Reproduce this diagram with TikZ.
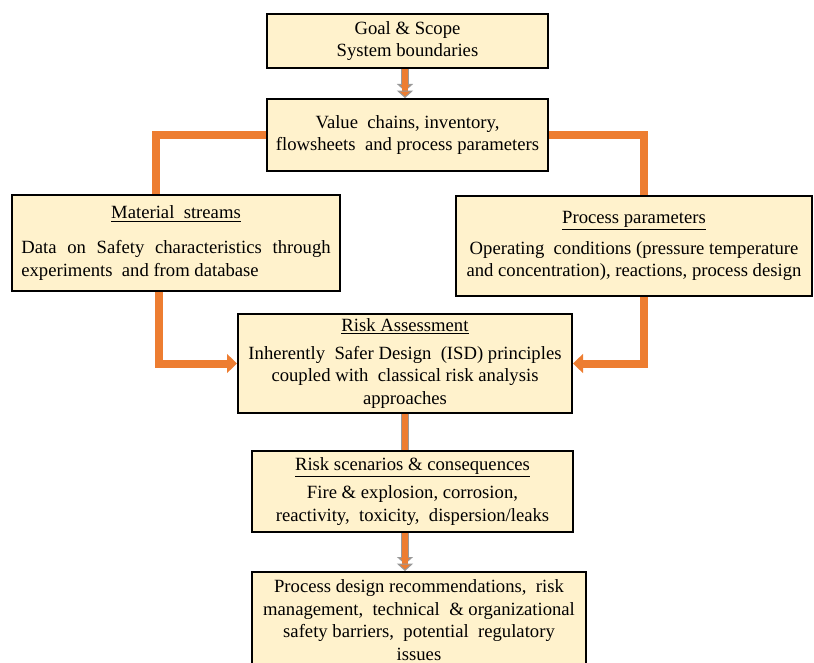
\documentclass[tikz,border=0pt]{standalone}
\usepackage{fontspec}
\setmainfont{Liberation Serif}
\usepackage{tikz}
\usetikzlibrary{arrows.meta}

\definecolor{boxfill}{HTML}{FFF2CC}
\definecolor{flow}{HTML}{ED7D31}

\tikzset{
	box/.style={draw=black, line width=1.5pt, fill=boxfill, align=center, inner sep=2pt,
		font=\fontsize{14}{17}\selectfont},
	link/.style={draw=flow, line width=6pt},
	linktip/.style={link, -{Triangle[width=14pt,length=7.5pt]}},
	shaft/.style={draw=flow, line width=4pt, preaction={draw=black!40, line width=6pt}},
	shafttip/.style={draw=flow, line width=4pt, -{Triangle[width=12pt,length=5.5pt,color=black!40,fill=flow,line width=0.8pt]},
		preaction={draw=black!40, line width=6pt, shorten >=5pt}}
}

\begin{document}
\begin{tikzpicture}[x=0.75pt,y=-0.75pt]
					
					\useasboundingbox (0,0) rectangle (814,663);
					
					% boxes
					\node[box, minimum width=211pt, minimum height=40.5pt] (goal) at (407.5,41) {Goal \& Scope\\System boundaries};
					\node[box, minimum width=211pt, minimum height=54pt] (value) at (407.5,135) {Value\ \ chains, inventory,\\flowsheets\ \ and process parameters};
					\node[box, minimum width=246pt, minimum height=72pt] (material) at (176,243) {\underline{Material\ \ streams}\\[9pt]\hbox to 232pt{Data\hfill on\hfill Safety\hfill characteristics\hfill through}\\\hbox to 232pt{experiments\ \ and from database\hfill}};
					\node[box, minimum width=267pt, minimum height=75pt] (process) at (634,246) {\underline{Process parameters}\\[6pt]Operating\ \ conditions (pressure temperature\\and concentration), reactions, process design};
					\node[box, minimum width=250.5pt, minimum height=74pt] (risk) at (405,363.5) {\underline{Risk Assessment}\\[4pt]Inherently\ \ Safer Design\ \ (ISD) principles\\coupled with\ \ classical risk analysis\\approaches};
					\node[box, minimum width=241pt, minimum height=61pt] (scenario) at (412.5,491.5) {\underline{Risk scenarios \& consequences}\\[4pt]Fire \& explosion, corrosion,\\reactivity,\ \ toxicity,\ \ dispersion/leaks};
					\node[box, minimum width=250.5pt, minimum height=78pt] (recom) at (419,624) {Process design recommendations,\ \ risk\\management,\ \ technical\ \ \& organizational\\safety barriers,\ \ potential\ \ regulatory\\issues\\[-11pt]};
					
					% connectors
					\draw[shafttip] (goal.south -| risk.south) -- (value.north -| risk.south);
					\draw[link] (value.west) -| ([xshift=-15pt]material.north);
					\draw[link] (value.east) -| ([xshift=7.5pt]process.north);
					\draw[linktip] ([xshift=-13pt]material.south) |- (risk.west);
					\draw[linktip] ([xshift=7.5pt]process.south) |- (risk.east);
					\draw[shaft] (risk.south) -- (scenario.north -| risk.south);
					\draw[shafttip] (scenario.south -| risk.south) -- (recom.north -| risk.south);
					
				\end{tikzpicture}
\end{document}
